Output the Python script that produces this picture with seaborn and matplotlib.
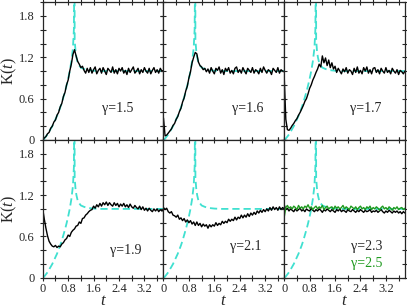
#K(t) panels for different gamma values
import numpy as np
import pandas as pd
import matplotlib
matplotlib.use('Agg')
import matplotlib.pyplot as plt
from matplotlib.colors import to_hex
from matplotlib.ticker import MultipleLocator, FuncFormatter
import seaborn as sns

#theory curve (dashed cyan), same in every panel
t_theory = [0, 0.05, 0.1, 0.15, 0.2, 0.25, 0.3, 0.35, 0.4, 0.45, 0.5, 0.55, 0.6, 0.65, 0.7, 0.75, 0.8, 0.85, 0.9, 0.95, 0.98,
            1.0, 1.005, 1.03, 1.06, 1.1, 1.15, 1.2, 1.3, 1.4, 1.6, 1.8, 2.2, 2.6, 3.0, 3.4, 3.8]
k_theory = [0, 0.02, 0.05, 0.08, 0.12, 0.16, 0.2, 0.25, 0.3, 0.35, 0.41, 0.47, 0.54, 0.62, 0.7, 0.79, 0.89, 1.0, 1.14, 1.33, 1.6,
            2.6, 1.45, 1.3, 1.2, 1.12, 1.08, 1.05, 1.03, 1.015, 1.005, 1.0, 1.0, 1.0, 1.0, 1.0, 1.0]

#simulation curves, sampled every dt
dt = 0.05
k_15 = [0.00, 0.03, 0.05, 0.09, 0.11, 0.17, 0.20, 0.26, 0.29, 0.36, 0.40, 0.48, 0.53, 0.63, 0.69, 0.80, 0.87, 1.00, 1.10, 1.24,
        1.31, 1.22, 1.14, 1.10, 1.05, 1.07, 1.01, 0.97,
        1.04, 0.98, 1.05, 0.97, 1.02, 1.06, 0.96, 1.01, 1.04, 0.97, 1.05, 1.00, 0.95, 1.04, 1.01, 0.98, 1.06, 0.97, 1.02, 0.96,
        1.04, 1.00, 1.05, 0.97, 1.01, 0.95, 1.04, 0.98, 1.02, 1.06, 0.97, 1.00, 1.04, 0.96, 1.02, 0.98, 1.05, 1.00, 0.97, 1.04,
        0.96, 1.01, 1.05, 0.98, 1.02, 0.97, 1.04, 1.00, 1.01]
k_16 = [0.32, 0.06, 0.07, 0.10, 0.13, 0.16, 0.21, 0.24, 0.30, 0.34, 0.41, 0.46, 0.55, 0.61, 0.71, 0.78, 0.90, 0.99, 1.12, 1.20,
        1.27, 1.25, 1.13, 1.08, 1.06, 1.02, 1.04, 0.99,
        1.03, 0.97, 1.05, 1.00, 0.96, 1.04, 1.01, 1.06, 0.97, 1.02, 0.95, 1.04, 1.00, 1.05, 0.97, 1.01, 0.96, 1.04, 1.06, 0.98,
        1.02, 0.97, 1.05, 1.00, 0.96, 1.04, 1.01, 0.98, 1.05, 0.97, 1.02, 1.00, 0.96, 1.04, 0.98, 1.06, 1.01, 0.97, 1.02, 1.00,
        0.95, 1.04, 1.01, 0.98, 1.05, 0.97, 1.02, 1.00, 0.99]
k_17 = [0.92, 0.30, 0.15, 0.14, 0.17, 0.21, 0.24, 0.28, 0.31, 0.36, 0.40, 0.45, 0.50, 0.56, 0.60, 0.67, 0.75, 0.80, 0.87, 0.92,
        0.98, 1.03, 1.10, 1.06, 1.22, 1.12, 1.19, 1.08, 1.16, 1.05, 1.12, 1.03, 1.07, 0.98, 1.04, 1.00, 0.96, 1.03,
        0.99, 1.05, 0.97, 1.02, 1.00, 0.95, 1.04, 0.98, 1.06, 0.97, 1.01, 0.96, 1.05, 1.00, 1.06, 0.97, 1.02, 0.96, 1.04, 1.05,
        0.98, 1.02, 0.96, 1.04, 1.00, 0.97, 1.05, 0.98, 1.01, 0.96, 1.04, 1.00, 0.97, 1.02, 0.95, 1.01, 0.99, 0.96, 1.00]
k_19 = [1.00, 0.85, 0.72, 0.61, 0.53, 0.49, 0.46, 0.45, 0.47, 0.44, 0.46, 0.45, 0.49, 0.51, 0.55, 0.57, 0.62, 0.60, 0.66, 0.69,
        0.71, 0.75, 0.76, 0.81, 0.79, 0.86, 0.87, 0.91, 0.93, 0.96, 0.98, 0.99, 1.04, 1.01, 1.06, 1.03, 1.08, 1.04, 1.09, 1.06,
        1.10, 1.05, 1.09, 1.06, 1.04, 1.09, 1.05, 1.08, 1.03, 1.07, 1.04, 1.08, 1.03, 1.06, 1.02, 1.07, 1.03, 1.01, 1.05, 1.02,
        1.00, 1.04, 0.99, 1.03, 0.98, 1.01, 0.97, 1.01, 0.98, 0.96, 1.00, 0.97, 1.00, 0.96, 0.99, 0.97, 0.98]
k_21 = [1.02, 0.99, 1.01, 0.96, 0.94, 0.96, 0.91, 0.90, 0.88, 0.91, 0.85, 0.87, 0.83, 0.86, 0.81, 0.84, 0.80, 0.83, 0.78, 0.81,
        0.76, 0.81, 0.76, 0.79, 0.74, 0.78, 0.75, 0.77, 0.72, 0.77, 0.74, 0.77, 0.75, 0.80, 0.76, 0.79, 0.77, 0.82, 0.79, 0.82,
        0.80, 0.85, 0.82, 0.85, 0.83, 0.88, 0.84, 0.88, 0.86, 0.91, 0.87, 0.91, 0.88, 0.93, 0.89, 0.94, 0.91, 0.95, 0.92, 0.97,
        0.94, 0.98, 0.95, 0.99, 0.96, 1.00, 0.97, 1.02, 0.98, 1.03, 0.99, 1.02, 0.98, 1.03, 0.99, 1.02, 1.00]
k_23 = [1.06, 0.99, 1.01, 0.97, 1.00, 0.98, 0.96, 1.00, 0.97, 0.99, 1.01, 0.97, 0.99, 0.96, 1.00, 0.98, 0.97, 1.01, 0.98, 0.96,
        0.99, 0.97, 1.00, 0.98, 0.95, 0.99, 0.97, 1.00, 0.98, 0.96, 0.99, 0.97, 0.95, 0.99, 0.97, 1.00, 0.96, 0.98, 0.97, 0.95,
        0.99, 0.97, 0.96, 0.99, 0.97, 0.95, 0.98, 0.96, 0.99, 0.97, 0.95, 0.98, 0.96, 0.97, 0.99, 0.95, 0.97, 0.96, 0.98, 0.95,
        0.97, 0.99, 0.96, 0.94, 0.97, 0.95, 0.98, 0.96, 0.94, 0.97, 0.95, 0.97, 0.94, 0.96, 0.93, 0.96, 0.94]
k_25 = [0.88, 1.02, 1.05, 1.01, 1.03, 1.00, 1.04, 1.02, 0.99, 1.05, 1.01, 1.03, 1.00, 1.04, 1.02, 1.06, 1.01, 1.03, 0.99, 1.02,
        1.04, 1.00, 1.03, 1.01, 1.05, 0.99, 1.02, 1.04, 1.00, 1.02, 1.03, 0.99, 1.04, 1.01, 1.03, 1.00, 1.02, 1.05, 1.00, 1.03,
        1.01, 0.99, 1.04, 1.02, 1.00, 1.03, 0.99, 1.02, 1.04, 1.00, 1.02, 0.99, 1.03, 1.01, 1.04, 0.99, 1.02, 1.00, 1.03, 1.01,
        0.98, 1.02, 1.04, 1.00, 1.02, 0.99, 1.03, 1.01, 0.98, 1.02, 1.00, 1.03, 0.99, 1.01, 1.02, 0.99, 1.01]

panels = [(k_15, 'γ=1.5'), (k_16, 'γ=1.6'), (k_17, 'γ=1.7'),
          (k_19, 'γ=1.9'), (k_21, 'γ=2.1'), (k_23, 'γ=2.3')]
label_x = [2.35, 2.65, 2.55, 2.6, 2.6, 2.6]
label_y = [0.46, 0.46, 0.46, 0.40, 0.45, 0.45]

sns.set_style('ticks')
plt.rcParams['font.family'] = ['Liberation Serif', 'DejaVu Serif']
plt.rcParams['mathtext.fontset'] = 'custom'
plt.rcParams['mathtext.rm'] = 'Liberation Serif'
plt.rcParams['mathtext.it'] = 'Liberation Serif:italic'
plt.rcParams['path.simplify'] = False

cyan = '#40e0d0'
green = '#1f9a1f'
dash = (4, 2.2)

fig, axes = plt.subplots(2, 3, figsize=(4.07, 3.08), dpi=100, sharex=True, sharey=True)
fig.subplots_adjust(left=0.105, right=0.995, top=0.993, bottom=0.098, wspace=0, hspace=0)

theory = pd.DataFrame({'t': t_theory, 'K': k_theory, 'kind': 'theory'})
fmt = FuncFormatter(lambda v, p: '0' if abs(v) < 1e-9 else '%.1f' % v)

for i, ax in enumerate(axes.flat):
    k, lab = panels[i]
    sim = pd.DataFrame({'t': np.arange(len(k)) * dt, 'K': k})
    sns.lineplot(data=theory, x='t', y='K', style='kind', dashes={'theory': dash}, ax=ax,
                 color=cyan, lw=1.3, estimator=None, legend=False)
    sns.lineplot(data=sim, x='t', y='K', ax=ax, color='black', lw=1.0, estimator=None, legend=False)
    if i == 5:
        sim2 = pd.DataFrame({'t': np.arange(len(k_25)) * dt, 'K': k_25})
        sns.lineplot(data=sim2, x='t', y='K', ax=ax, color=green, lw=1.0, estimator=None, legend=False)
        ax.text(label_x[i], 0.21, 'γ=2.5', color=green, fontsize=10, ha='center', va='center')
    ax.text(label_x[i], label_y[i], lab, fontsize=10, ha='center', va='center')

    ax.set_xlim(0, 3.8)
    ax.set_ylim(0, 2.0)
    ax.xaxis.set_major_locator(MultipleLocator(0.8))
    ax.xaxis.set_minor_locator(MultipleLocator(0.4))
    ax.yaxis.set_major_locator(MultipleLocator(0.6))
    ax.yaxis.set_minor_locator(MultipleLocator(0.2))
    ax.xaxis.set_major_formatter(fmt)
    ax.yaxis.set_major_formatter(fmt)
    ax.tick_params(which='both', direction='inout', top=True, right=True, length=4, width=0.8,
                   labelsize=9)
    ax.tick_params(axis='y', pad=4)
    ax.tick_params(axis='x', pad=2)
    for s in ax.spines.values():
        s.set_linewidth(0.9)
    ax.set_xlabel('')
    ax.set_ylabel('')
    if i % 3 == 0:
        ax.set_ylabel(r'K($\mathit{t}$)', fontsize=11.5, labelpad=0)
    if i >= 3:
        ax.set_xlabel(r'$\mathit{t}$', fontsize=12, labelpad=-2)

#make sure the theory line keeps its dashes
for ax in axes.flat:
    for ln in ax.get_lines():
        if to_hex(ln.get_color()) == cyan:
            ln.set_dashes(dash)
            ln.set_dash_capstyle('butt')

plt.savefig('out.png', dpi=100)
